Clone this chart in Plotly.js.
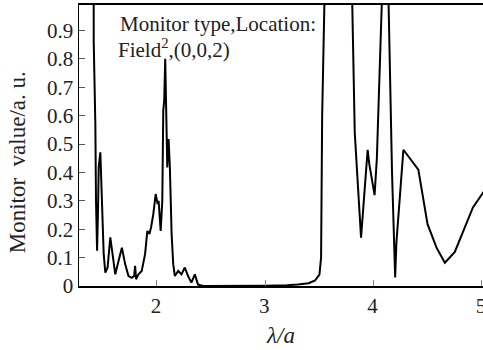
<!DOCTYPE html>
<html>
<head>
<meta charset="utf-8">
<script src="https://cdn.plot.ly/plotly-3.0.1.min.js"></script>
<style>html,body{margin:0;padding:0;background:#fff;}#chart{width:483px;height:350px;}</style>
</head>
<body>
<div id="chart"></div>
<script>
// wavelength (lambda/a)
const lambdaA = [
  1.400, 1.414, 1.416, 1.431, 1.437, 1.447, 1.456, 1.462, 1.477, 1.486, 1.498, 1.508, 1.523, 1.544,
  1.569, 1.590, 1.615, 1.645, 1.676, 1.706, 1.737, 1.768, 1.789, 1.798, 1.807, 1.829, 1.859, 1.890,
  1.911, 1.930, 1.945, 1.966, 1.988, 2.006, 2.015, 2.034, 2.049, 2.058, 2.067, 2.076, 2.089, 2.095,
  2.107, 2.119, 2.135, 2.150, 2.165, 2.196, 2.226, 2.257, 2.287, 2.318, 2.349, 2.379, 2.425,
  2.60, 2.80, 3.00, 3.20, 3.30, 3.40, 3.46, 3.50, 3.515, 3.525, 3.535, 3.65, 3.79,
  3.800, 3.826, 3.884, 3.945, 3.960, 4.009, 4.030, 4.076, 4.100, 4.138, 4.170, 4.199, 4.210, 4.275,
  4.413, 4.498, 4.581, 4.658, 4.750, 4.917, 4.990, 5.03
];
// monitor value (a.u.)
const monitorValue = [
  1.50, 1.50, 0.86, 0.57, 0.30, 0.124, 0.277, 0.418, 0.471, 0.371, 0.253, 0.112, 0.047, 0.065,
  0.171, 0.112, 0.041, 0.088, 0.135, 0.077, 0.035, 0.029, 0.035, 0.071, 0.024, 0.041, 0.053, 0.112,
  0.194, 0.183, 0.206, 0.253, 0.324, 0.289, 0.300, 0.194, 0.300, 0.618, 0.654, 0.801, 0.559, 0.418,
  0.518, 0.418, 0.183, 0.077, 0.035, 0.053, 0.041, 0.065, 0.035, 0.012, 0.041, 0.005, 0.000,
  0.000, 0.000, 0.001, 0.003, 0.005, 0.010, 0.020, 0.040, 0.100, 0.600, 1.500, 3.000, 1.500,
  1.050, 0.540, 0.170, 0.480, 0.430, 0.320, 0.450, 1.000, 1.500, 1.000, 0.400, 0.030, 0.150, 0.480,
  0.410, 0.218, 0.135, 0.082, 0.120, 0.277, 0.318, 0.34
];
const xTicks = [2, 3, 4, 5];
const yTicks = [0, 0.1, 0.2, 0.3, 0.4, 0.5, 0.6, 0.7, 0.8, 0.9];
const yTickText = ['0', '0.1', '0.2', '0.3', '0.4', '0.5', '0.6', '0.7', '0.8', '0.9'];
const yTitle = 'Monitor\u00a0 value/a. u.';
const xTitle = '<i>λ/a</i>';
const noteLines = ['Monitor type,Location:', 'Field<sup>2</sup>,(0,0,2)'];

const serif = 'Liberation Serif, DejaVu Serif';
const ink = '#222';

const trace = {
  x: lambdaA, y: monitorValue, type: 'scatter', mode: 'lines',
  line: {color: '#000', width: 2}, hoverinfo: 'none', showlegend: false
};

const layout = {
  width: 483, height: 350,
  margin: {l: 79, r: 0, t: 5, b: 64},
  paper_bgcolor: '#fff', plot_bgcolor: '#fff',
  font: {family: serif, color: ink, size: 21},
  xaxis: {
    range: [1.28, 5.01], tickvals: xTicks, ticktext: xTicks.map(String),
    ticks: 'inside', ticklen: 6, tickcolor: '#888', tickwidth: 1,
    ticklabeloverflow: 'allow', ticklabelshift: -1,
    showline: true, linecolor: '#000', linewidth: 2, mirror: true,
    showgrid: false, zeroline: false,
    tickfont: {family: serif, size: 21, color: ink},
    title: {text: xTitle, font: {family: serif, size: 23, color: ink}, standoff: 10}
  },
  yaxis: {
    range: [0, 0.99], tickvals: yTicks, ticktext: yTickText,
    ticks: 'inside', ticklen: 6, tickcolor: '#555', tickwidth: 1,
    showline: true, linecolor: '#000', linewidth: 1.5, mirror: false,
    showgrid: false, zeroline: false,
    tickfont: {family: serif, size: 21, color: ink}
  },
  annotations: [
    {xref: 'paper', yref: 'paper', x: -0.153, y: 0.441, xanchor: 'center', yanchor: 'middle',
     textangle: -90, text: yTitle, showarrow: false, font: {family: serif, size: 23, color: ink}},
    {xref: 'paper', yref: 'paper', x: 0.097, y: 0.934, xanchor: 'left', yanchor: 'middle',
     text: noteLines[0], showarrow: false, font: {family: serif, size: 21, color: ink}},
    {xref: 'paper', yref: 'paper', x: 0.092, y: 0.845, xanchor: 'left', yanchor: 'middle',
     text: noteLines[1], showarrow: false, font: {family: serif, size: 21, color: ink}}
  ]
};

Plotly.newPlot('chart', [trace], layout, {staticPlot: true, displayModeBar: false});
</script>
</body>
</html>
